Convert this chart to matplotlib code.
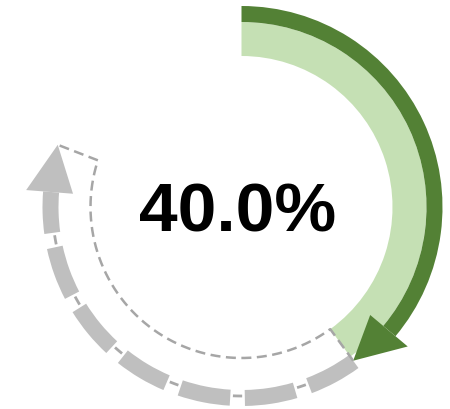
import numpy as np
import matplotlib.pyplot as plt
from matplotlib.patches import Wedge, Polygon

# progress shown by the ring
progress = 40.0                # percent
label = f"{progress:.1f}%"

# colours
DARK_GREEN = "#538135"
LIGHT_GREEN = "#C5E0B4"
GREY = "#BFBFBF"
OUTLINE = "#A6A6A6"

W, H = 450, 409
fig = plt.figure(figsize=(W / 100, H / 100), dpi=100)
ax = fig.add_axes([0, 0, 1, 1])
ax.set_xlim(0, W)
ax.set_ylim(0, H)
ax.set_aspect("equal")
ax.axis("off")

cx, cy = 241.5, 202.0
r_in, r_band, r_out = 151, 185, 201


def pt(r, a):
    # a = clockwise angle from 12 o'clock, degrees
    t = np.radians(a)
    return cx + r * np.sin(t), cy + r * np.cos(t)


def wedge(r_outer, a0, a1, width, color, z=2):
    # clock angles -> matplotlib ccw angles
    return Wedge((cx, cy), r_outer, 90 - a1, 90 - a0, width=width,
                 facecolor=color, edgecolor="none", zorder=z)


end_a = progress / 100 * 360

# filled part: light band + dark arrow on the outer rim
ax.add_patch(wedge(r_band, 0, end_a, r_band - r_in, LIGHT_GREEN))
head_len = 14
ax.add_patch(wedge(r_out, 0, end_a - head_len, r_out - r_band, DARK_GREEN, 3))
ax.add_patch(Polygon([pt(168, end_a - head_len), pt(217, end_a - head_len),
                      pt(190, end_a)], closed=True, facecolor=DARK_GREEN,
                     edgecolor="none", zorder=3))

# remaining part: dashed grey arrow, last dash runs into the head
g_r, g_w = 199, 16
g_tip = 288.7
g_base = g_tip - 14.2
dash, gap = 15.3, 4.4
a = end_a
while a < g_base:
    a1 = min(a + dash, g_base)
    ax.add_patch(wedge(g_r, a, a1, g_w, GREY))
    if a1 < g_base:
        # short thin stroke inside the gap
        mid = a1 + gap / 2
        xs, ys = pt(189, np.linspace(mid - 1.4, mid + 1.4, 10))
        ax.plot(xs, ys, color="#A9A9A9", lw=2.0, solid_capstyle="butt", zorder=2)
    a = a1 + gap
ax.add_patch(Polygon([pt(169, g_base), pt(216, g_base), pt(194, g_tip)],
                     closed=True, facecolor=GREY, edgecolor="none", zorder=2))

# thin dashed outline of the remaining area
arc = np.linspace(end_a, 288, 200)
ox, oy = pt(r_in, arc)
tx, ty = pt(190, end_a)
ex, ey = pt(194, g_tip)
ox = np.concatenate([[tx], ox, [ex]])
oy = np.concatenate([[ty], oy, [ey]])
ax.plot(ox, oy, color=OUTLINE, lw=1.8, linestyle=(0, (4, 2.2)), zorder=4)

ax.text(237.5, H - 232, label, ha="center", va="baseline",
        fontsize=50, fontweight="bold", family="Liberation Sans",
        color="black", zorder=5)

fig.savefig("out.png", dpi=100)
